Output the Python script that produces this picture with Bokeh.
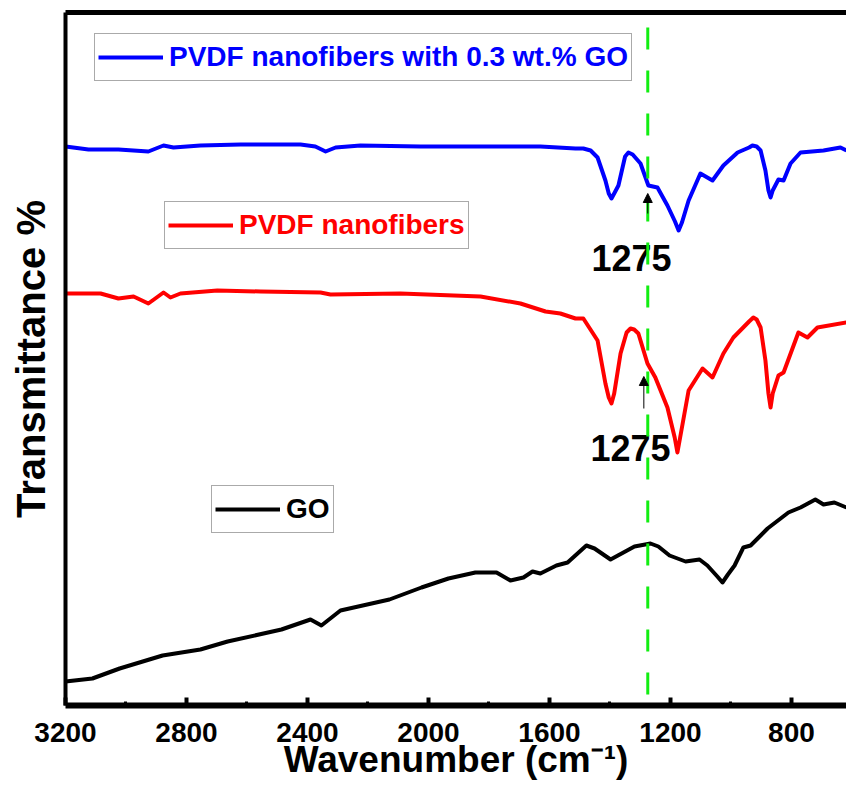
from bokeh.plotting import figure
from bokeh.models import (Range1d, FixedTicker, LinearAxis, Legend, LegendItem,
                          Arrow, NormalHead)
from bokeh.core.properties import value
from bokeh.embed import file_html
from bokeh.resources import INLINE

# ---------------- data (wavenumber in cm^-1, transmittance in a.u. with offsets) ----------
go_wn = [3200, 3111, 3021, 2879, 2754, 2664, 2486, 2390, 2354, 2291, 2129, 2023, 1934, 1845,
         1775, 1729, 1686, 1656, 1630, 1577, 1540, 1478, 1451, 1398, 1319, 1266, 1240, 1203,
         1150, 1104, 1078, 1045, 1028, 1010, 988, 959, 935, 879, 810, 770, 721, 694, 658, 618]
go_t = [24, 27, 37, 50, 56, 64, 76, 86, 80, 95, 106, 118, 127, 133,
        133, 125, 128, 134, 132, 140, 143, 160, 157, 146, 159, 162, 159, 150,
        144, 146, 140, 129, 123, 131, 140, 158, 160, 177, 193, 198, 206, 201, 203, 198]

pvdf_wn = [3200, 3084, 3025, 2975, 2926, 2876, 2853, 2820, 2698, 2555, 2357, 2324, 2093, 1828,
           1696, 1613, 1564, 1514, 1488, 1441, 1415, 1404, 1395, 1386, 1365, 1345, 1332, 1320,
           1306, 1276, 1250, 1210, 1186, 1177, 1168, 1140, 1094, 1061, 1025, 992, 940, 926,
           915, 902, 886, 876, 869, 862, 843, 826, 777, 747, 714, 618]
pvdf_t = [412, 412, 407, 409, 402, 413, 408, 412, 415, 414, 413, 411, 412, 409,
          402, 394, 392, 387, 387, 365, 322, 308, 302, 312, 352, 373, 377, 376,
          372, 342, 328, 298, 268, 253, 268, 315, 337, 328, 352, 368, 384, 388,
          386, 378, 345, 312, 298, 312, 330, 333, 373, 368, 378, 383]

pvdfgo_wn = [3200, 3124, 3025, 2926, 2876, 2843, 2754, 2621, 2423, 2374, 2340, 2307, 2225, 2026,
             1828, 1630, 1514, 1488, 1464, 1441, 1415, 1404, 1395, 1386, 1372, 1350, 1339, 1325,
             1299, 1273, 1243, 1210, 1185, 1173, 1162, 1140, 1101, 1061, 1025, 978, 940, 929,
             915, 902, 886, 876, 869, 862, 843, 826, 803, 770, 694, 638, 618]
pvdfgo_t = [559, 556, 556, 554, 560, 558, 560, 561, 561, 559, 554, 558, 560, 559,
            559, 559, 557, 557, 555, 548, 525, 512, 507, 512, 520, 549, 553, 551,
            542, 520, 518, 500, 484, 475, 483, 505, 532, 525, 540, 553, 558, 560,
            559, 555, 535, 515, 508, 515, 526, 525, 542, 553, 555, 558, 555]

x_major_ticks = [3200, 2800, 2400, 2000, 1600, 1200, 800]
x_minor_ticks = [3000, 2600, 2200, 1800, 1400, 1000]

marker_wn = 1275
marker_label = "1275"

FONT = "Liberation Sans"

# ---------------- figure ----------------
p = figure(width=846, height=790, x_range=Range1d(3200, 618), y_range=Range1d(0, 693),
           output_backend="svg", toolbar_location=None,
           min_border_left=65, min_border_right=0, min_border_top=12, min_border_bottom=85)
p.outline_line_color = None
p.xgrid.visible = False
p.ygrid.visible = False
p.background_fill_color = "white"

xa = p.xaxis[0]
xa.ticker = FixedTicker(ticks=x_major_ticks, minor_ticks=x_minor_ticks)
xa.axis_line_width = 6
xa.axis_line_color = "black"
xa.major_tick_in = 8
xa.major_tick_out = 0
xa.major_tick_line_width = 4
xa.minor_tick_in = 4
xa.minor_tick_out = 0
xa.minor_tick_line_width = 3
xa.major_label_text_font = FONT
xa.major_label_text_font_size = "28px"
xa.major_label_text_font_style = "bold"
xa.major_label_text_color = "black"
xa.major_label_standoff = 17
xa.axis_label = "Wavenumber (cm⁻¹)"
xa.axis_label_text_font = FONT
xa.axis_label_text_font_size = "37px"
xa.axis_label_text_font_style = "bold"
xa.axis_label_text_color = "black"
xa.axis_label_standoff = -6

ya = p.yaxis[0]
ya.ticker = FixedTicker(ticks=[])
ya.major_label_text_font_size = "0px"
ya.major_tick_in = 0
ya.major_tick_out = 0
ya.minor_tick_in = 0
ya.minor_tick_out = 0
ya.axis_line_width = 4
ya.axis_line_color = "black"
ya.axis_label = "Transmittance %"
ya.axis_label_text_font = FONT
ya.axis_label_text_font_size = "40px"
ya.axis_label_text_font_style = "bold"
ya.axis_label_text_color = "black"
ya.axis_label_standoff = 13

top = LinearAxis(ticker=FixedTicker(ticks=[]), major_label_text_font_size="0px",
                 major_tick_in=0, major_tick_out=0, minor_tick_in=0, minor_tick_out=0,
                 axis_line_width=5, axis_line_color="black")
p.add_layout(top, "above")

# ---------------- curves ----------------
r_go = p.line(go_wn, go_t, line_color="black", line_width=4, line_join="round")
r_pvdf = p.line(pvdf_wn, pvdf_t, line_color="#ff0000", line_width=4, line_join="round")
r_pvdfgo = p.line(pvdfgo_wn, pvdfgo_t, line_color="#0000ff", line_width=4, line_join="round")

# annotation labels
p.text(x=[1329, 1332], y=[448, 258], text=[marker_label, marker_label],
       text_font=value(FONT), text_font_size="36px", text_font_style="bold",
       text_color="black", text_align="center", text_baseline="middle")

# marker line
p.segment(x0=[marker_wn], y0=[678], x1=[marker_wn], y1=[-6],
          line_color="#11ee11", line_width=3, line_dash="22 21")

# arrows
p.add_layout(Arrow(end=NormalHead(size=9, fill_color="black", line_color="black", line_width=1),
                   x_start=marker_wn, y_start=492, x_end=marker_wn, y_end=512,
                   line_color="black", line_width=1))
p.add_layout(Arrow(end=NormalHead(size=9, fill_color="black", line_color="black", line_width=1),
                   x_start=1288, y_start=297, x_end=1288, y_end=329,
                   line_color="black", line_width=1))


# ---------------- legends ----------------
def add_legend(label, renderer, color, loc):
    leg = Legend(items=[LegendItem(label=label, renderers=[renderer])], location=loc,
                 orientation="vertical", glyph_width=65, glyph_height=40, label_height=40,
                 label_standoff=6, padding=3, margin=0, spacing=0,
                 border_line_color="#555555", border_line_width=1,
                 background_fill_color="white", background_fill_alpha=1,
                 label_text_font=FONT, label_text_font_size="28px",
                 label_text_font_style="bold", label_text_color=color,
                 label_text_baseline="middle")
    p.add_layout(leg, "center")


add_legend("PVDF nanofibers with 0.3 wt.% GO", r_pvdfgo, "#0000ff", (29, 624))
add_legend("PVDF nanofibers", r_pvdf, "#ff0000", (99, 456))
add_legend("GO", r_go, "black", (146, 172))

open("out.html", "w").write(file_html(p, INLINE))
